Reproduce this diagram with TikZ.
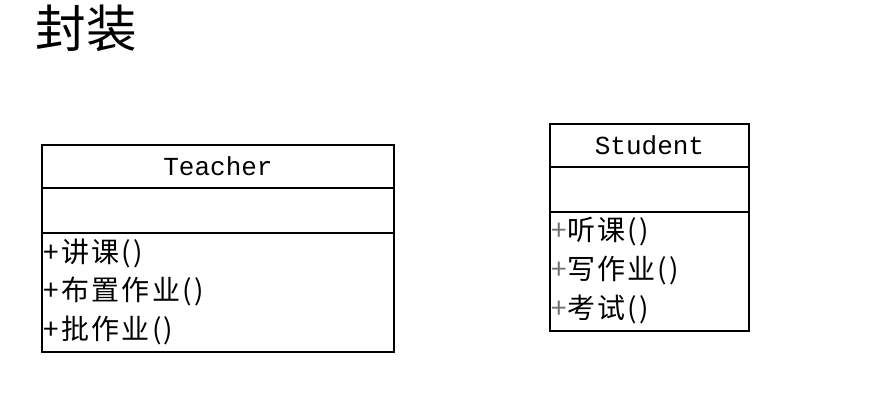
\documentclass[tikz,border=0pt]{standalone}
\usepackage{fontspec}
\setmainfont[LetterSpace=8]{Noto Sans CJK SC}
\newfontfamily\namefont{Liberation Mono}
\usetikzlibrary{positioning}

\begin{document}
\begin{tikzpicture}[x=0.75pt, y=-0.75pt, font=\fontsize{21pt}{28.9pt}\selectfont,
        box/.style={draw, line width=1.2pt, outer sep=0pt},
        classname/.style={box, minimum height=32.25pt, inner sep=0pt, font=\namefont\fontsize{19.5pt}{22pt}\selectfont},
        classattr/.style={box, minimum height=33.75pt, inner sep=0pt},
        classops/.style={box, minimum height=89.25pt, inner sep=0pt},
        opstext/.style={anchor=north west, inner sep=1pt, yshift=-3pt, align=left}]
        \useasboundingbox (0,0) rectangle (874,408);
        \node (title) at (86,28) {\fontsize{38pt}{40pt}\selectfont\addfontfeature{LetterSpace=0} 封装};
        % Teacher
        \node[classname, minimum width=264pt, anchor=north west] (teacher) at (42,145) {Teacher};
        \node[classattr, minimum width=264pt, below=0pt of teacher] (teacherattr) {};
        \node[classops, minimum width=264pt, below=0pt of teacherattr] (teacherops) {};
        \node[opstext] (teachermeth) at (teacherops.north west) {+讲课()\\+布置作业()\\+批作业()};
        % Student
        \node[classname, minimum width=149.25pt, anchor=north west] (student) at (550,124) {Student};
        \node[classattr, minimum width=149.25pt, below=0pt of student] (studentattr) {};
        \node[classops, minimum width=149.25pt, below=0pt of studentattr] (studentops) {};
        \node[opstext] (studentmeth) at (studentops.north west) {\textcolor{black!55}{+}听课()\\\textcolor{black!55}{+}写作业()\\\textcolor{black!55}{+}考试()};
\end{tikzpicture}
\end{document}
